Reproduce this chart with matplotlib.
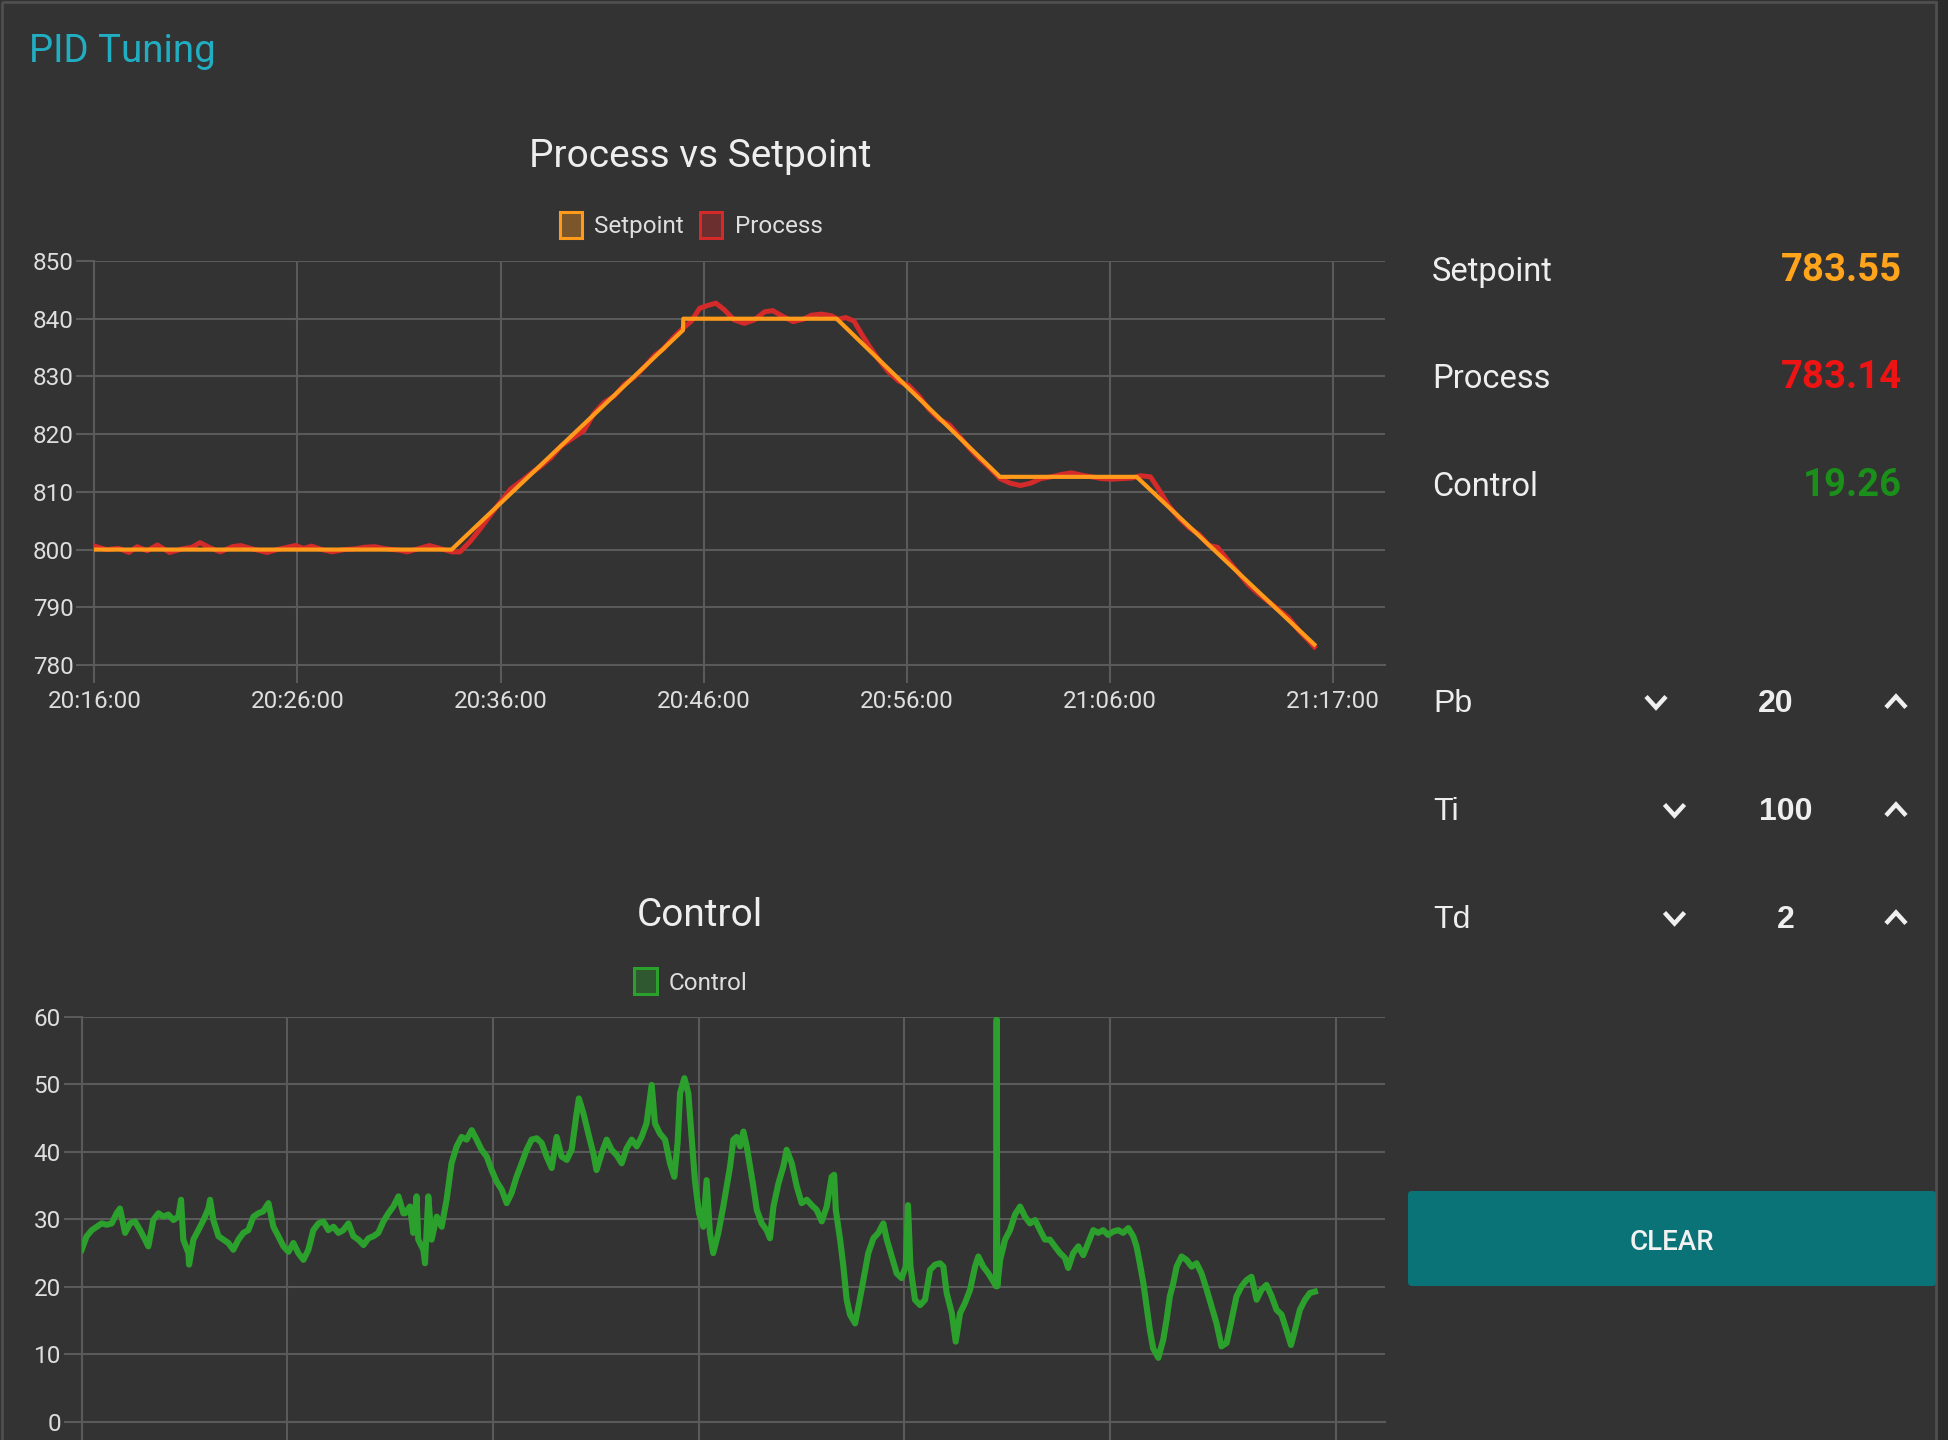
import matplotlib
matplotlib.use('Agg')
import matplotlib.pyplot as plt
from matplotlib.patches import Rectangle, FancyBboxPatch, Patch
from matplotlib.colors import to_rgba

W, H = 1948, 1440
DPI = 100

BG = '#333333'
GRID = '#5a5a5a'
TICK_TXT = '#dedede'
TITLE_TXT = '#eeeeee'
ORANGE = '#ff9a1a'
RED = '#d42a2a'
GREEN = '#2ca02c'

plt.rcParams['font.family'] = ['Roboto', 'DejaVu Sans']

# time axis in minutes after 20:16:00
tick_minutes = [0, 10, 20, 30, 40, 50, 61]
tick_labels = ['20:16:00', '20:26:00', '20:36:00', '20:46:00',
               '20:56:00', '21:06:00', '21:17:00']

setpoint_minutes = [0, 17.59, 28.98, 29.0, 36.55, 44.59, 51.32, 60.07]
setpoint_values = [800, 800, 838.0, 840, 840, 812.6, 812.6, 783.55]

process_minutes = [
    0.0, 0.6, 1.2, 1.7, 2.1, 2.6, 3.1, 3.7, 4.3, 4.8, 5.2, 5.7, 6.2, 6.8, 7.2,
    7.8, 8.5, 9.0, 9.5, 9.9, 10.3, 10.7, 11.2, 11.7, 12.3, 12.8, 13.3, 13.8,
    14.4, 15.0, 15.4, 16.0, 16.5, 17.0, 17.6, 18.0, 18.5, 19.0, 19.5, 20.0,
    20.5, 21.0, 21.5, 22.0, 22.5, 23.0, 23.5, 24.1, 24.6, 25.1, 25.6, 26.1,
    26.6, 27.1, 27.6, 28.0, 28.5, 29.0, 29.4, 29.8, 30.2, 30.6, 31.0, 31.5,
    32.0, 32.5, 33.0, 33.4, 33.9, 34.4, 34.9, 35.3, 35.8, 36.3, 36.6, 37.0,
    37.4, 37.8, 38.2, 38.6, 39.1, 39.6, 40.1, 40.6, 41.1, 41.6, 42.1, 42.6,
    43.1, 43.6, 44.1, 44.6, 45.1, 45.6, 46.1, 46.6, 47.1, 47.6, 48.1, 48.6,
    49.1, 49.6, 50.1, 50.6, 51.1, 51.5, 52.0, 52.4, 52.9, 53.4, 53.9, 54.4,
    54.9, 55.3, 55.8, 56.3, 56.8, 57.3, 57.8, 58.3, 58.8, 59.3, 59.8, 60.07]
process_values = [
    800.6, 800.0, 800.2, 799.5, 800.5, 799.8, 800.8, 799.5, 800.1, 800.4,
    801.2, 800.3, 799.6, 800.5, 800.7, 800.1, 799.5, 800.0, 800.4, 800.7,
    800.2, 800.6, 800.0, 799.6, 800.0, 800.1, 800.4, 800.5, 800.1, 799.9,
    799.6, 800.2, 800.7, 800.2, 799.6, 799.6, 801.4, 803.6, 806.0, 808.3,
    810.5, 811.8, 813.2, 814.5, 816.0, 818.0, 819.2, 820.6, 823.6, 825.5,
    826.6, 828.6, 829.9, 831.7, 833.7, 834.7, 836.7, 838.4, 839.6, 841.8,
    842.3, 842.7, 841.6, 839.8, 839.2, 839.8, 841.2, 841.4, 840.4, 839.5,
    839.9, 840.6, 840.8, 840.5, 839.9, 840.2, 839.6, 837.2, 835.0, 833.0,
    830.8, 829.2, 828.4, 826.6, 824.3, 822.6, 821.6, 819.6, 817.5, 815.7,
    814.1, 812.3, 811.5, 811.1, 811.5, 812.3, 812.6, 813.0, 813.3, 812.9,
    812.6, 812.3, 812.2, 812.3, 812.4, 812.8, 812.6, 810.5, 807.6, 805.5,
    803.8, 802.6, 800.7, 800.4, 798.2, 796.1, 794.0, 792.4, 791.0, 789.6,
    788.2, 786.0, 784.2, 783.14]

control_minutes = [
    0.00, 0.24, 0.49, 0.73, 0.97, 1.22, 1.46, 1.70, 1.86, 2.11, 2.35, 2.59,
    2.84, 3.08, 3.24, 3.48, 3.73, 3.97, 4.21, 4.46, 4.70, 4.83, 4.94, 5.19,
    5.22, 5.43, 5.67, 5.92, 6.16, 6.24, 6.40, 6.65, 6.89, 7.13, 7.37, 7.62,
    7.86, 8.10, 8.35, 8.59, 8.83, 9.08, 9.32, 9.56, 9.81, 10.05, 10.29, 10.53,
    10.78, 11.02, 11.26, 11.51, 11.75, 11.99, 12.24, 12.48, 12.72, 12.97,
    13.21, 13.45, 13.70, 13.94, 14.18, 14.42, 14.67, 14.91, 15.15, 15.40,
    15.64,
    15.72, 15.96, 16.12, 16.28, 16.36, 16.61, 16.69, 16.85, 17.01, 17.26,
    17.50, 17.74, 17.98, 18.23, 18.47, 18.71, 18.96, 19.20, 19.44, 19.69,
    19.93, 20.17, 20.42, 20.66, 20.90, 21.14, 21.39, 21.63, 21.87, 22.12,
    22.36, 22.60, 22.85, 23.09, 23.33, 23.58, 23.82, 24.06, 24.17, 24.39,
    24.63, 24.87, 25.03, 25.28, 25.52, 25.76, 26.01, 26.25, 26.49, 26.74,
    26.98, 27.22, 27.46, 27.71, 27.87, 28.11, 28.36, 28.60, 28.81, 28.97,
    29.09, 29.30, 29.49, 29.65, 29.81, 30.01, 30.22, 30.38, 30.54, 30.70,
    30.95, 31.19,
    31.52, 31.68, 31.84, 32.01, 32.17, 32.33, 32.49, 32.65, 32.82, 33.06,
    33.30, 33.46, 33.63, 33.87, 34.11, 34.27, 34.52, 34.76, 35.00, 35.25,
    35.49, 35.73, 35.98, 36.22, 36.46, 36.58, 36.66, 36.87, 37.03, 37.19,
    37.35, 37.60, 37.76, 38.00, 38.24, 38.49, 38.73, 38.97, 39.14, 39.38,
    39.62, 39.86, 40.06, 40.17, 40.29, 40.51, 40.76, 41.00, 41.24, 41.49,
    41.73, 41.89, 42.05, 42.30, 42.49, 42.70, 42.94, 43.19, 43.43, 43.59,
    43.83, 44.08, 44.32, 44.45, 44.48, 44.51, 44.65, 44.89, 45.13, 45.37,
    45.62, 45.86, 46.10, 46.35, 46.59, 46.83,
    47.07, 47.31, 47.56, 47.80, 47.96, 48.20, 48.45, 48.69, 48.93, 49.18,
    49.42, 49.66, 49.90, 50.15, 50.39, 50.63, 50.88, 51.12, 51.28, 51.44,
    51.61, 51.77, 51.93, 52.09, 52.34, 52.58, 52.74, 52.90, 53.07, 53.23,
    53.47, 53.71, 53.96, 54.20, 54.44, 54.69, 54.93, 55.17, 55.41, 55.66,
    55.90, 56.14, 56.39, 56.63, 56.87, 57.12, 57.36, 57.60, 57.85, 58.09,
    58.33, 58.57, 58.79, 58.98, 59.22, 59.47, 59.71, 59.95]
control_values = [
    25.5, 27.5, 28.4, 28.9, 29.4, 29.2, 29.4, 30.9, 31.6, 28.0, 29.4, 29.7,
    28.4, 27.0, 26.0, 29.9, 30.9, 30.4, 30.7, 29.9, 30.4, 32.9, 27.0, 25.0,
    23.3, 27.0, 28.4, 29.9, 31.6, 32.9, 29.9, 27.5, 27.0, 26.5, 25.5, 27.0,
    28.0, 28.4, 30.4, 30.9, 31.2, 32.4, 28.9, 27.5, 26.0, 25.2, 26.5, 25.0,
    24.0, 25.5, 28.4, 29.4, 29.7, 28.4, 28.9, 28.0, 28.4, 29.4,
    27.5, 27.0, 26.2, 27.2, 27.5, 28.0, 29.7, 30.9, 31.9, 33.4,
    30.9,
    30.9, 31.9, 28.0, 33.4, 27.0, 25.5, 23.5, 33.4, 27.0, 30.4,
    28.9, 32.9, 38.3, 40.8, 42.2, 41.8, 43.2, 41.8, 40.3, 39.3,
    37.3, 35.6, 34.4, 32.4, 33.9, 36.3, 38.3, 40.3, 41.8, 42.0,
    41.3, 39.3, 37.6, 42.2, 39.3, 38.8, 40.3, 45.7, 47.9, 45.7,
    42.7, 39.8, 37.3, 39.8, 41.8, 40.3, 39.5, 38.3, 40.5, 41.8,
    40.8, 42.2, 44.2, 49.9, 44.2, 42.7, 41.8, 38.3, 36.3, 41.3,
    48.7, 50.9, 48.7, 42.2, 35.8, 30.9, 28.9, 35.8, 28.0, 25.0,
    28.0, 31.9,
    37.8, 41.8, 42.2, 40.8, 43.0, 40.8, 37.8, 34.9, 31.4, 29.4,
    28.4, 27.2, 31.9, 35.3, 37.8, 40.3, 38.3, 34.9, 32.4, 32.9,
    32.1, 31.4, 29.7, 31.9, 36.3, 36.6, 31.4, 27.0, 23.0, 18.1,
    15.9, 14.6, 17.1, 21.0, 25.0, 27.2, 28.0, 29.4, 27.0, 24.5,
    22.0, 21.3, 23.0, 32.1, 23.0, 18.1, 17.3, 18.1, 22.5, 23.3,
    23.5, 23.0, 19.1, 16.1, 11.9, 16.1, 17.6, 19.6, 23.0, 24.5,
    23.0, 22.0, 20.8, 20.1, 59.6, 20.1, 24.0, 27.0, 28.4, 30.7,
    31.9, 30.4, 29.4, 29.9, 28.4, 27.0,
    27.0, 26.0, 25.0, 24.3, 22.8, 25.0, 26.0, 24.7, 26.5, 28.4,
    28.0, 28.4, 27.7, 28.2, 28.4, 28.0, 28.7, 27.5, 26.0, 23.5,
    20.6, 17.1, 13.6, 10.9, 9.5, 12.2, 15.1, 18.6, 20.6, 23.0,
    24.5, 24.0, 23.0, 23.5, 22.0, 19.6, 17.1, 14.6, 11.2, 11.7,
    15.1, 18.6, 20.1, 21.0, 21.5, 18.1, 19.6, 20.3, 18.6, 16.6,
    15.9, 13.6, 11.4, 13.6, 16.6, 18.1, 19.1, 19.3]

readouts = [('Setpoint', '783.55', '#ffa41b'),
            ('Process', '783.14', '#ee1414'),
            ('Control', '19.26', '#1a8f1a')]
params = [('Pb', '20'), ('Ti', '100'), ('Td', '2')]


def fx(x):
    return x / W


def fy(y):
    return 1 - y / H


def style_axes(ax, xmax, ylim, yticks):
    ax.set_facecolor('none')
    ax.set_xlim(0, xmax)
    ax.set_ylim(*ylim)
    ax.set_yticks(yticks)
    ax.set_xticks(tick_minutes)
    ax.set_xticklabels(tick_labels)
    ax.set_axisbelow(True)
    ax.grid(True, color=GRID, lw=1.5)
    for s in ['top', 'right']:
        ax.spines[s].set_visible(False)
    for s in ['left', 'bottom']:
        ax.spines[s].set_color(GRID)
        ax.spines[s].set_linewidth(1.5)
    ax.tick_params(length=13, width=1.5, color=GRID, labelcolor=TICK_TXT, labelsize=17.5)
    ax.tick_params(axis='x', pad=5)
    ax.tick_params(axis='y', pad=2)


fig = plt.figure(figsize=(W / DPI, H / DPI), dpi=DPI, facecolor=BG)

# page / widget background
ui = fig.add_axes([0, 0, 1, 1])
ui.set_xlim(0, W)
ui.set_ylim(H, 0)
ui.axis('off')
ui.add_patch(Rectangle((1937, 0), 11, H, fc='#2b2b2b', ec='none'))
ui.add_patch(Rectangle((2, 2), 1934, H + 20, fill=False, ec='#4f4f4f', lw=2))

fig.text(fx(29), fy(62), 'PID Tuning', ha='left', va='baseline', size=27.6, color='#22aec2')

# ---- Process vs Setpoint ----
ax1 = fig.add_axes([fx(94.4), fy(665), fx(1385) - fx(94.4), (665 - 261) / H])
style_axes(ax1, 63.55, (780, 850), range(780, 851, 10))
ax1.plot(process_minutes, process_values, color=RED, lw=3.6, zorder=3)
ax1.plot(setpoint_minutes, setpoint_values, color=ORANGE, lw=3.0, zorder=4)

fig.text(fx(699.8), fy(167.4), 'Process vs Setpoint', ha='center', va='baseline',
         size=28, color=TITLE_TXT)
h1 = [Patch(fc=to_rgba(ORANGE, 0.35), ec=ORANGE, lw=2.2, label='Setpoint'),
      Patch(fc=to_rgba(RED, 0.35), ec=RED, lw=2.2, label='Process')]
fig.legend(handles=h1, loc='center', bbox_to_anchor=(fx(691), fy(225)), ncol=2,
           frameon=False, fontsize=17.5, handlelength=0.92, handleheight=1.25,
           handletextpad=0.5, columnspacing=0.67, labelcolor=TICK_TXT, borderpad=0)

# ---- Control ----
ax2 = fig.add_axes([fx(81.7), fy(1422), fx(1385) - fx(81.7), (1422 - 1016.7) / H])
style_axes(ax2, 63.36, (0, 60), range(0, 61, 10))
ax2.tick_params(axis='x', labelbottom=False)
ax2.plot(control_minutes, control_values, color=GREEN, lw=4.4, zorder=3,
         solid_joinstyle='round')

fig.text(fx(699.7), fy(925.5), 'Control', ha='center', va='baseline',
         size=28, color=TITLE_TXT)
h2 = [Patch(fc=to_rgba(GREEN, 0.35), ec=GREEN, lw=2.2, label='Control')]
fig.legend(handles=h2, loc='center', bbox_to_anchor=(fx(691), fy(981.5)),
           frameon=False, fontsize=17.5, handlelength=0.92, handleheight=1.25,
           handletextpad=0.5, labelcolor=TICK_TXT, borderpad=0)

# ---- right panel: readouts ----
for i, (name, val, col) in enumerate(readouts):
    base = 281 + i * 107.5
    fig.text(fx(1432), fy(base), name, ha='left', va='baseline', size=23.5, color=TITLE_TXT)
    fig.text(fx(1902), fy(base), val, ha='right', va='baseline', size=27.5,
             weight='bold', color=col)


def chevron(xc, yc, up):
    dy = 5.5 if up else -5.5
    ui.plot([xc - 10, xc, xc + 10], [yc + dy, yc - dy, yc + dy], color='#f0f0f0',
            lw=3.2, solid_capstyle='butt', solid_joinstyle='miter')


param_rows = [(712, 1656, 1776), (820, 1674.5, 1786), (928, 1674.5, 1785.6)]
for (name, val), (base, xdown, xval) in zip(params, param_rows):
    fig.text(fx(1433), fy(base), name, ha='left', va='baseline', size=23, color=TITLE_TXT,
             family=['Liberation Sans', 'DejaVu Sans'])
    fig.text(fx(xval), fy(base), val, ha='center', va='baseline', size=23,
             weight='bold', color=TITLE_TXT, family=['Liberation Sans', 'DejaVu Sans'])
    chevron(xdown, base - 10, up=False)
    chevron(1896, base - 10, up=True)

ui.add_patch(FancyBboxPatch((1408, 1191), 528, 95, boxstyle='round,pad=0,rounding_size=4',
                            fc='#0a7378', ec='none'))
fig.text(fx(1671.5), fy(1250.4), 'CLEAR', ha='center', va='baseline', size=20,
         weight='medium', color='#f2f2f2')

fig.savefig('out.png', dpi=DPI, facecolor=BG)
